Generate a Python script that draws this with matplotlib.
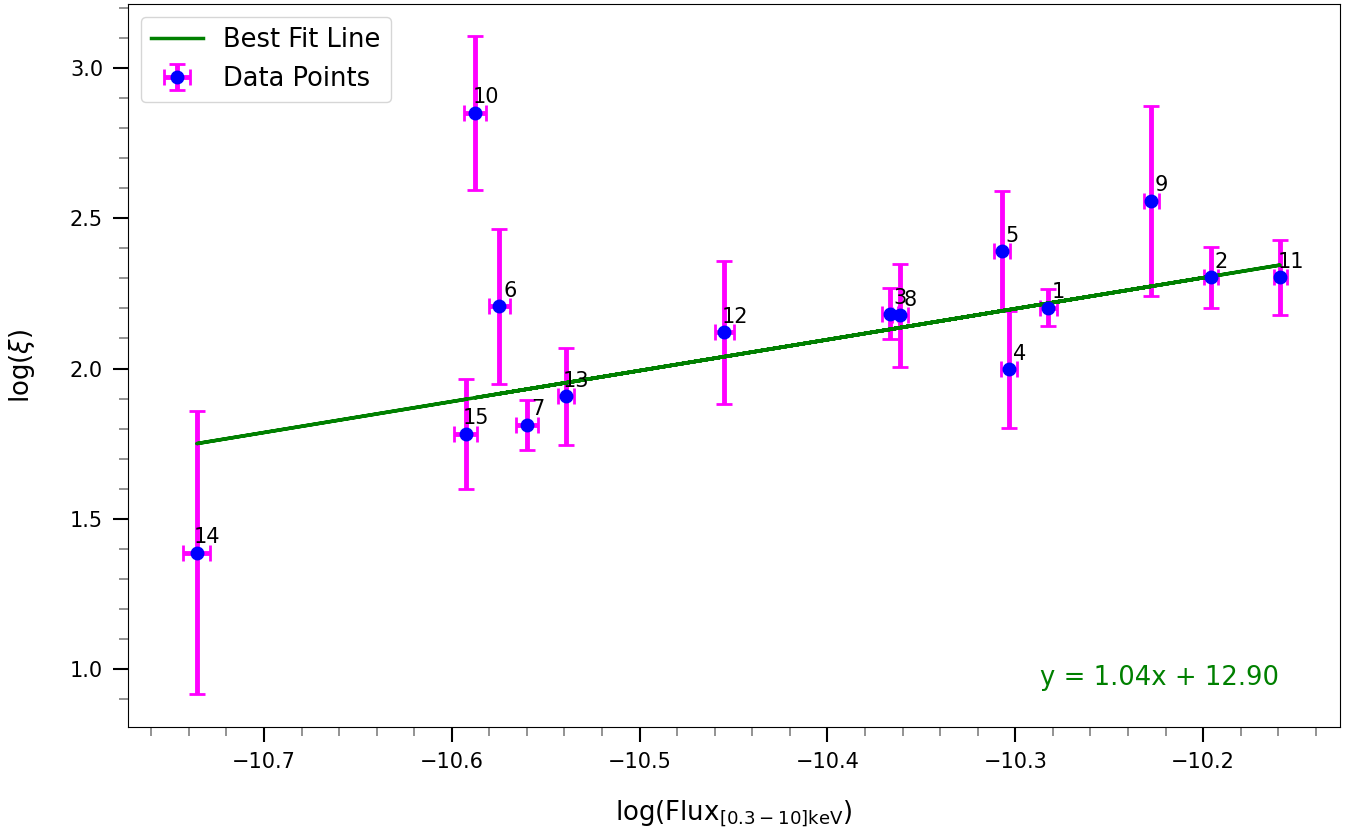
import matplotlib
matplotlib.use("Agg")
import matplotlib.pyplot as plt
from matplotlib.ticker import MultipleLocator
import numpy as np

labels = [str(i) for i in range(1, 16)]
log_flux = [-10.2825, -10.1957, -10.3667, -10.3033, -10.3072, -10.5747, -10.5598,
            -10.3613, -10.2277, -10.5876, -10.1590, -10.4549, -10.5394, -10.7358, -10.5926]
log_xi = [2.203, 2.303, 2.183, 1.997, 2.390, 2.207, 1.813,
          2.177, 2.557, 2.850, 2.303, 2.120, 1.907, 1.387, 1.783]
xi_err = [0.062, 0.100, 0.085, 0.195, 0.200, 0.257, 0.083,
          0.172, 0.317, 0.257, 0.125, 0.237, 0.160, 0.470, 0.183]
flux_err = [0.0045, 0.0038, 0.0043, 0.0042, 0.0043, 0.0056, 0.0058,
            0.0043, 0.0040, 0.0057, 0.0035, 0.0049, 0.0043, 0.0072, 0.0061]
# best-fit line as drawn
fit_slope = 1.03
fit_intercept = 12.808
fit_label = 'y = 1.04x + 12.90'

x = np.array(log_flux)
y = np.array(log_xi)

fig = plt.figure(figsize=(13.52, 8.33), dpi=100)
ax = fig.add_axes([128/1352, 1-727/833, (1340-128)/1352, (727-4)/833])

ax.errorbar(x, y, yerr=xi_err, xerr=flux_err, fmt='o', color='blue', ecolor='magenta',
            markersize=9, elinewidth=3.5, capsize=6, capthick=2, label='Data Points')
ax.plot(x, fit_slope*x + fit_intercept, color='green', linewidth=2.5, label='Best Fit Line')

for lab, xi, yi in zip(labels, x, y):
    ax.annotate(lab, (xi, yi), textcoords='offset points', xytext=(7.5, 7),
                ha='center', va='baseline', fontsize=15)

ax.text(0.95, 0.05, fit_label, transform=ax.transAxes,
        ha='right', va='bottom', color='green', fontsize=18.6)

ax.set_xlim(-10.7724, -10.1271)
ax.set_ylim(0.807, 3.213)
ax.xaxis.set_major_locator(MultipleLocator(0.1))
ax.xaxis.set_minor_locator(MultipleLocator(0.02))
ax.yaxis.set_major_locator(MultipleLocator(0.5))
ax.yaxis.set_minor_locator(MultipleLocator(0.1))
ax.tick_params(which='major', length=11, width=1.5, labelsize=15, pad=7, color='black')
ax.tick_params(which='minor', length=6.5, width=1.2, color='gray')

ax.set_xlabel(r'log(Flux$_{[0.3-10]\mathrm{keV}}$)', fontsize=18.7, labelpad=19)
ax.set_ylabel(r'log($\xi$)', fontsize=18.7, labelpad=24)

ax.legend(loc='upper left', fontsize=18.5)

fig.savefig('out.png', dpi=100)
